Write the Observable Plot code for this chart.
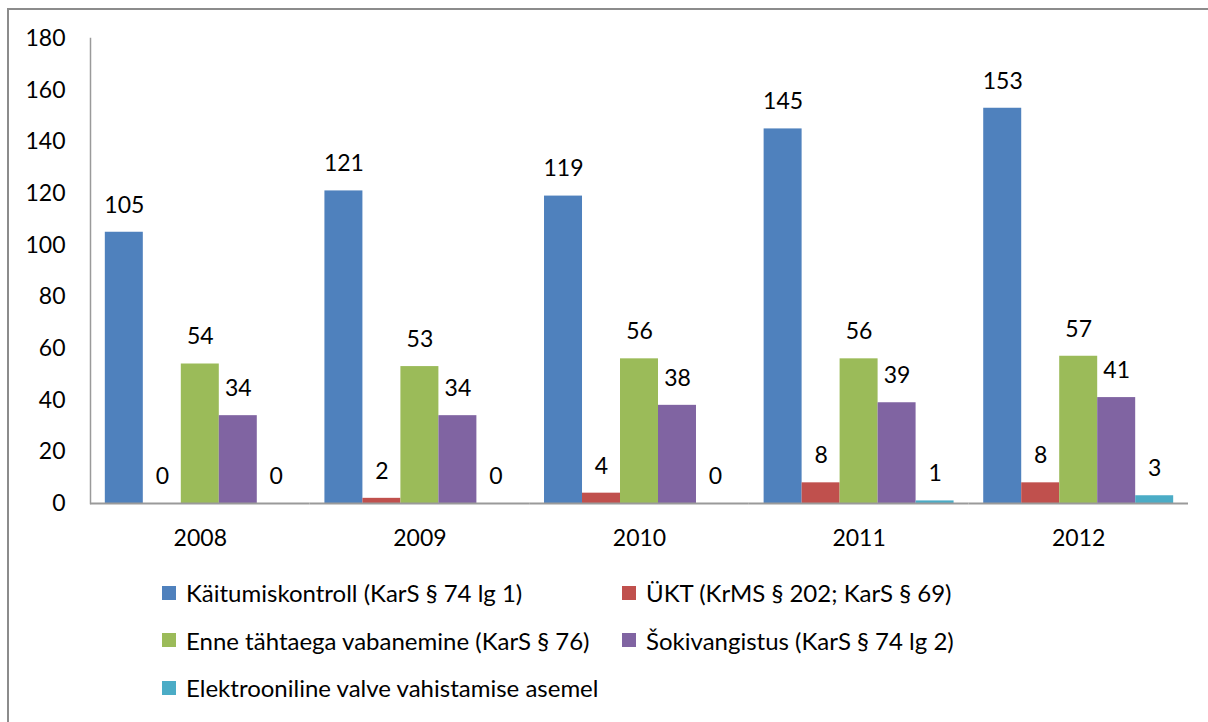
<!DOCTYPE html>
<html>
<head>
<meta charset="utf-8">
<script src="https://cdn.jsdelivr.net/npm/d3@7"></script>
<script src="https://cdn.jsdelivr.net/npm/@observablehq/plot@0.6"></script>
<style>
  html, body { margin: 0; padding: 0; background: #fff; overflow: hidden; width: 1208px; height: 722px; }
  body { position: relative; font-family: Lato, "Open Sans", sans-serif; }
  #border { position: absolute; left: 7px; top: 8px; width: 1400px; height: 900px; border-left: 2px solid #8c8c8c; border-top: 2px solid #8c8c8c; box-sizing: border-box; }
  #chart { position: absolute; left: 0; top: 0; }
  #legend { position: absolute; left: 162px; top: 569px; display: grid; grid-template-columns: 460px auto; grid-auto-rows: 47.5px; font-size: 24px; color: #000; }
  .item { display: flex; align-items: center; white-space: nowrap; }
  .sw { width: 14px; height: 14px; margin-right: 10px; flex: none; }
</style>
</head>
<body>
<div id="border"></div>
<div id="chart"></div>
<div id="legend"></div>
<script>
const years = ["2008", "2009", "2010", "2011", "2012"];
const series = [
  "Käitumiskontroll (KarS § 74 lg 1)",
  "ÜKT (KrMS § 202; KarS § 69)",
  "Enne tähtaega vabanemine (KarS § 76)",
  "Šokivangistus (KarS § 74 lg 2)",
  "Elektrooniline valve vahistamise asemel"
];
const colors = ["#4F81BD", "#C0504D", "#9BBB59", "#8064A2", "#4BACC6"];
const kaitumiskontroll = [105, 121, 119, 145, 153];
const ukt = [0, 2, 4, 8, 8];
const enneTahtaega = [54, 53, 56, 56, 57];
const sokivangistus = [34, 34, 38, 39, 41];
const elektrooniline = [0, 0, 0, 1, 3];
const yTicks = [0, 20, 40, 60, 80, 100, 120, 140, 160, 180];

const seriesValues = [kaitumiskontroll, ukt, enneTahtaega, sokivangistus, elektrooniline];
const rows = [];
years.forEach((yr, i) => {
  series.forEach((s, j) => rows.push({year: yr, series: s, value: seriesValues[j][i]}));
});

const chart = Plot.plot({
  width: 1208,
  height: 560,
  marginLeft: 90,
  marginRight: 20,
  marginTop: 38,
  marginBottom: 57,
  style: {fontFamily: "Lato, 'Open Sans', sans-serif", fontSize: "23px", background: "transparent"},
  fx: {domain: years, padding: 0, round: false, label: null},
  x: {domain: series, paddingInner: 0, paddingOuter: 0.39, round: false, axis: null},
  y: {domain: [0, 180]},
  color: {domain: series, range: colors},
  marks: [
    Plot.barY(rows, {fx: "year", x: "series", y: "value", fill: "series"}),
    Plot.ruleY([0], {stroke: "#9a9a9a", strokeWidth: 2}),
    Plot.frame({anchor: "left", facetAnchor: "left", stroke: "#9a9a9a", strokeWidth: 1.5}),
    Plot.text(rows, {fx: "year", x: "series", y: "value", text: d => String(d.value), dy: -27, fontSize: 23, fill: "#000"}),
    Plot.axisY({ticks: yTicks, tickSize: 0, tickPadding: 25, fontSize: 23, label: null, tickFormat: d => String(d)}),
    Plot.axisFx({anchor: "bottom", tickSize: 0, tickPadding: 26, fontSize: 23, label: null})
  ]
});
document.getElementById("chart").appendChild(chart);

const legend = document.getElementById("legend");
series.forEach((s, i) => {
  const item = document.createElement("div");
  item.className = "item";
  const sw = document.createElement("span");
  sw.className = "sw";
  sw.style.background = colors[i];
  const t = document.createElement("span");
  t.textContent = s;
  item.appendChild(sw);
  item.appendChild(t);
  legend.appendChild(item);
});
</script>
</body>
</html>
